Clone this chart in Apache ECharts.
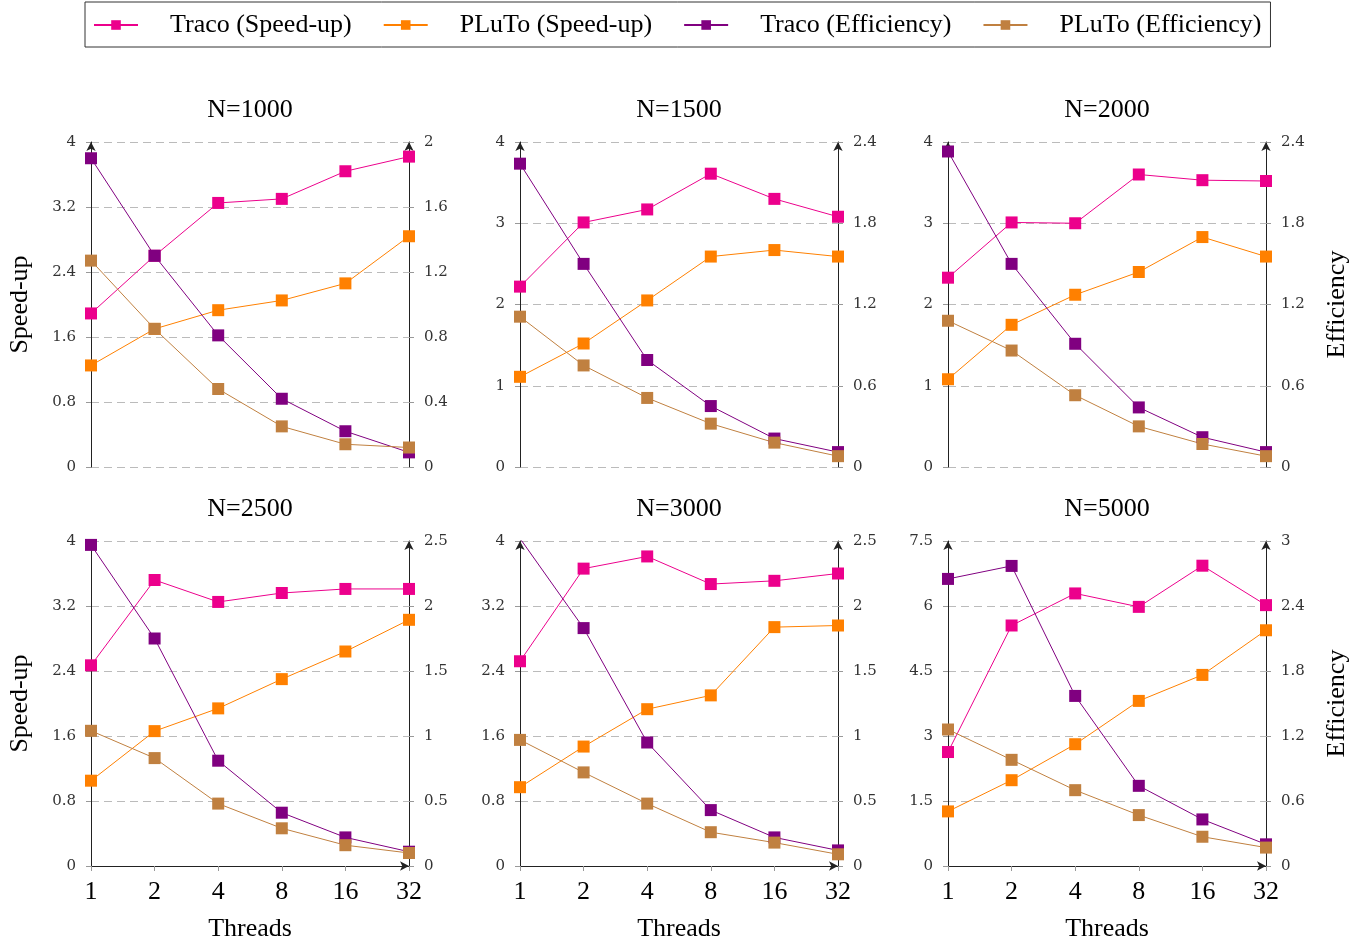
<!DOCTYPE html>
<html>
<head>
<meta charset="utf-8">
<script src="https://cdn.jsdelivr.net/npm/echarts@6/dist/echarts.min.js"></script>
<style>
  html, body { margin: 0; padding: 0; background: #fff; }
  #chart { width: 1365px; height: 940px; }
</style>
</head>
<body>
<div id="chart"></div>
<script>
const threads = ['1', '2', '4', '8', '16', '32']
const problemSizes = ['N=1000', 'N=1500', 'N=2000', 'N=2500', 'N=3000', 'N=5000']

// one row per panel, one value per thread count
const tracoSpeedup = [
  [1.89, 2.60, 3.25, 3.30, 3.64, 3.82],
  [2.22, 3.01, 3.17, 3.61, 3.30, 3.08],
  [2.33, 3.01, 3.00, 3.60, 3.53, 3.52],
  [2.47, 3.52, 3.25, 3.36, 3.41, 3.41],
  [2.52, 3.66, 3.81, 3.47, 3.51, 3.60],
  [2.63, 5.55, 6.29, 5.98, 6.93, 6.02]
]
const plutoSpeedup = [
  [1.25, 1.70, 1.93, 2.05, 2.26, 2.84],
  [1.11, 1.52, 2.05, 2.59, 2.67, 2.59],
  [1.08, 1.75, 2.12, 2.40, 2.83, 2.59],
  [1.05, 1.66, 1.94, 2.30, 2.64, 3.03],
  [0.97, 1.47, 1.93, 2.10, 2.94, 2.96],
  [1.26, 1.98, 2.81, 3.81, 4.41, 5.44]
]
const tracoEfficiency = [
  [1.90, 1.30, 0.81, 0.42, 0.22, 0.09],
  [2.24, 1.50, 0.79, 0.45, 0.21, 0.11],
  [2.33, 1.50, 0.91, 0.44, 0.22, 0.11],
  [2.47, 1.75, 0.81, 0.41, 0.22, 0.11],
  [2.52, 1.83, 0.95, 0.43, 0.22, 0.12],
  [2.65, 2.77, 1.57, 0.74, 0.43, 0.20]
]
const plutoEfficiency = [
  [1.27, 0.85, 0.48, 0.25, 0.14, 0.12],
  [1.11, 0.75, 0.51, 0.32, 0.18, 0.08],
  [1.08, 0.86, 0.53, 0.30, 0.17, 0.08],
  [1.04, 0.83, 0.48, 0.29, 0.16, 0.10],
  [0.97, 0.72, 0.48, 0.26, 0.18, 0.09],
  [1.26, 0.98, 0.70, 0.47, 0.27, 0.17]
]

const speedupMax = [4, 4, 4, 4, 4, 7.5]
const speedupStep = [0.8, 1, 1, 0.8, 0.8, 1.5]
const efficiencyMax = [2, 2.4, 2.4, 2.5, 2.5, 3]
const efficiencyStep = [0.4, 0.6, 0.6, 0.5, 0.5, 0.6]

const seriesNames = ['Traco (Speed-up)', 'PLuTo (Speed-up)', 'Traco (Efficiency)', 'PLuTo (Efficiency)']
const seriesColors = ['#ec008c', '#ff8000', '#800080', '#c08040']
const seriesData = [tracoSpeedup, plutoSpeedup, tracoEfficiency, plutoEfficiency]

const FONT = 'Liberation Serif'
const TICK_FONT = 'DejaVu Serif'
const colLeft = [91, 520, 948]
const rowTop = [142, 541]
const plotW = 318
const plotH = 325

const chart = echarts.init(document.getElementById('chart'))

const titles = []
const grids = []
const xAxes = []
const yAxes = []
const series = []

problemSizes.forEach((label, i) => {
  const col = i % 3
  const row = Math.floor(i / 3)
  const isBottom = row === 1

  titles.push({
    text: label,
    left: colLeft[col] + plotW / 2,
    top: rowTop[row] - 45,
    textAlign: 'center',
    padding: 0,
    textStyle: { fontFamily: FONT, fontSize: 26, fontWeight: 'normal', color: '#000' }
  })

  // fixed boxes, no auto-shrinking to fit the outer labels
  grids.push({
    left: colLeft[col],
    top: rowTop[row],
    width: plotW,
    height: plotH,
    containLabel: false,
    outerBoundsMode: 'none'
  })

  xAxes.push({
    type: 'category',
    gridIndex: i,
    data: threads,
    boundaryGap: false,
    name: isBottom ? 'Threads' : '',
    nameLocation: 'middle',
    nameGap: 50,
    nameTextStyle: { fontFamily: FONT, fontSize: 26, color: '#000' },
    axisLine: {
      show: isBottom,
      symbol: ['none', 'arrow'],
      symbolSize: [7, 9],
      lineStyle: { color: '#222', width: 1 }
    },
    axisTick: { show: isBottom, length: 5, lineStyle: { color: '#999' } },
    axisLabel: { show: isBottom, margin: 13, fontFamily: FONT, fontSize: 26, color: '#000' },
    splitLine: { show: false }
  })

  const axisLine = {
    show: true,
    symbol: ['none', 'arrow'],
    symbolSize: [7, 9],
    lineStyle: { color: '#222', width: 1 }
  }

  yAxes.push({
    type: 'value',
    gridIndex: i,
    position: 'left',
    min: 0,
    max: speedupMax[i],
    interval: speedupStep[i],
    name: col === 0 ? 'Speed-up' : '',
    nameLocation: 'middle',
    nameGap: 58,
    nameTextStyle: { fontFamily: FONT, fontSize: 26, color: '#000' },
    axisLine: axisLine,
    axisTick: { show: true, length: 5, lineStyle: { color: '#999' } },
    axisLabel: { margin: 15, fontFamily: TICK_FONT, fontSize: 15, color: '#333' },
    splitLine: { show: true, lineStyle: { color: '#bbb', type: [8, 5], width: 1 } }
  })

  yAxes.push({
    type: 'value',
    gridIndex: i,
    position: 'right',
    min: 0,
    max: efficiencyMax[i],
    interval: efficiencyStep[i],
    name: col === 2 ? 'Efficiency' : '',
    nameLocation: 'middle',
    nameGap: 58,
    nameTextStyle: { fontFamily: FONT, fontSize: 26, color: '#000' },
    axisLine: axisLine,
    axisTick: { show: true, length: 5, lineStyle: { color: '#999' } },
    axisLabel: { margin: 15, fontFamily: TICK_FONT, fontSize: 15, color: '#333' },
    splitLine: { show: false }
  })

  seriesNames.forEach((name, s) => {
    series.push({
      name: name,
      type: 'line',
      xAxisIndex: i,
      yAxisIndex: i * 2 + (s < 2 ? 0 : 1),
      data: seriesData[s][i],
      symbol: 'rect',
      symbolSize: 12,
      clip: true,
      itemStyle: { color: seriesColors[s] },
      lineStyle: { color: seriesColors[s], width: 1 }
    })
  })
})

chart.setOption({
  animation: false,
  textStyle: { fontFamily: FONT },
  title: titles,
  legend: {
    data: seriesNames,
    left: 85,
    top: 2,
    padding: [10, 9, 9, 8],
    itemWidth: 44,
    itemHeight: 12,
    itemGap: 31,
    borderColor: '#333',
    borderWidth: 1,
    textStyle: { fontFamily: FONT, fontSize: 26, color: '#000', padding: [0, 0, 0, 27] }
  },
  grid: grids,
  xAxis: xAxes,
  yAxis: yAxes,
  series: series
})
</script>
</body>
</html>
